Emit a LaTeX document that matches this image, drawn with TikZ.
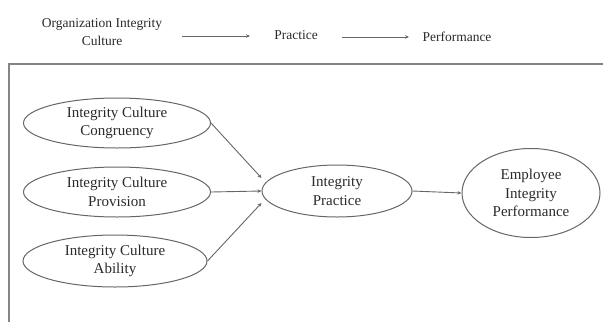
\documentclass[tikz,border=0pt]{standalone}
\usepackage{fontspec}
\setmainfont{Liberation Serif}
\usetikzlibrary{arrows.meta,shapes.geometric}
\definecolor{txt}{HTML}{2A2A2A}
\definecolor{ln}{HTML}{666666}
\begin{document}
\begin{tikzpicture}[x=1pt,y=-1pt,
  every node/.style={text=txt, align=center},
  hdr/.style={font=\fontsize{13.5}{18.5}\selectfont},
  oval/.style={draw=ln, line width=1pt, ellipse, inner sep=0pt, font=\fontsize{15}{18.5}\selectfont},
  conn/.style={draw=ln, line width=0.9pt, -{Stealth[length=4pt,width=3.5pt]}}]
\useasboundingbox (0,0) rectangle (603,322);
% header
\node[hdr] (hoc) at (102,32) {Organization Integrity\\Culture};
\node[hdr] (hpr) at (296,35) {Practice};
\node[hdr] (hpf) at (457,37) {Performance};
\coordinate (a1s) at (182,36); \coordinate (a1e) at (250,36);
\coordinate (a2s) at (342,37); \coordinate (a2e) at (409,37);
\draw[conn] (a1s) -- (a1e);
\draw[conn] (a2s) -- (a2e);
% frame
\coordinate (fb) at (9,322); \coordinate (ft) at (9,64); \coordinate (fr) at (603,64);
\draw[draw=ln!80, line width=1.5pt] (fb) -- (ft) -- (fr);
% ellipses
\node[oval, minimum width=187, minimum height=50] (e1) at (117,123) {Integrity Culture\\Congruency};
\node[oval, minimum width=187, minimum height=50] (e2) at (117,192) {Integrity Culture\\Provision};
\node[oval, minimum width=184, minimum height=52] (e3) at (115,261) {Integrity Culture\\Ability};
\node[oval, minimum width=150, minimum height=52] (ip) at (337,191) {Integrity\\Practice};
\node[oval, minimum width=138, minimum height=89] (ep) at (531,193) {Employee\\Integrity\\Performance};
\draw[conn] (e1.east) -- ([yshift=13]ip.west);
\draw[conn] (e2.east) -- (ip.west);
\draw[conn] (e3.east) -- ([yshift=-12]ip.west);
\draw[conn] (ip.east) -- (ep.west);
\end{tikzpicture}
\end{document}
